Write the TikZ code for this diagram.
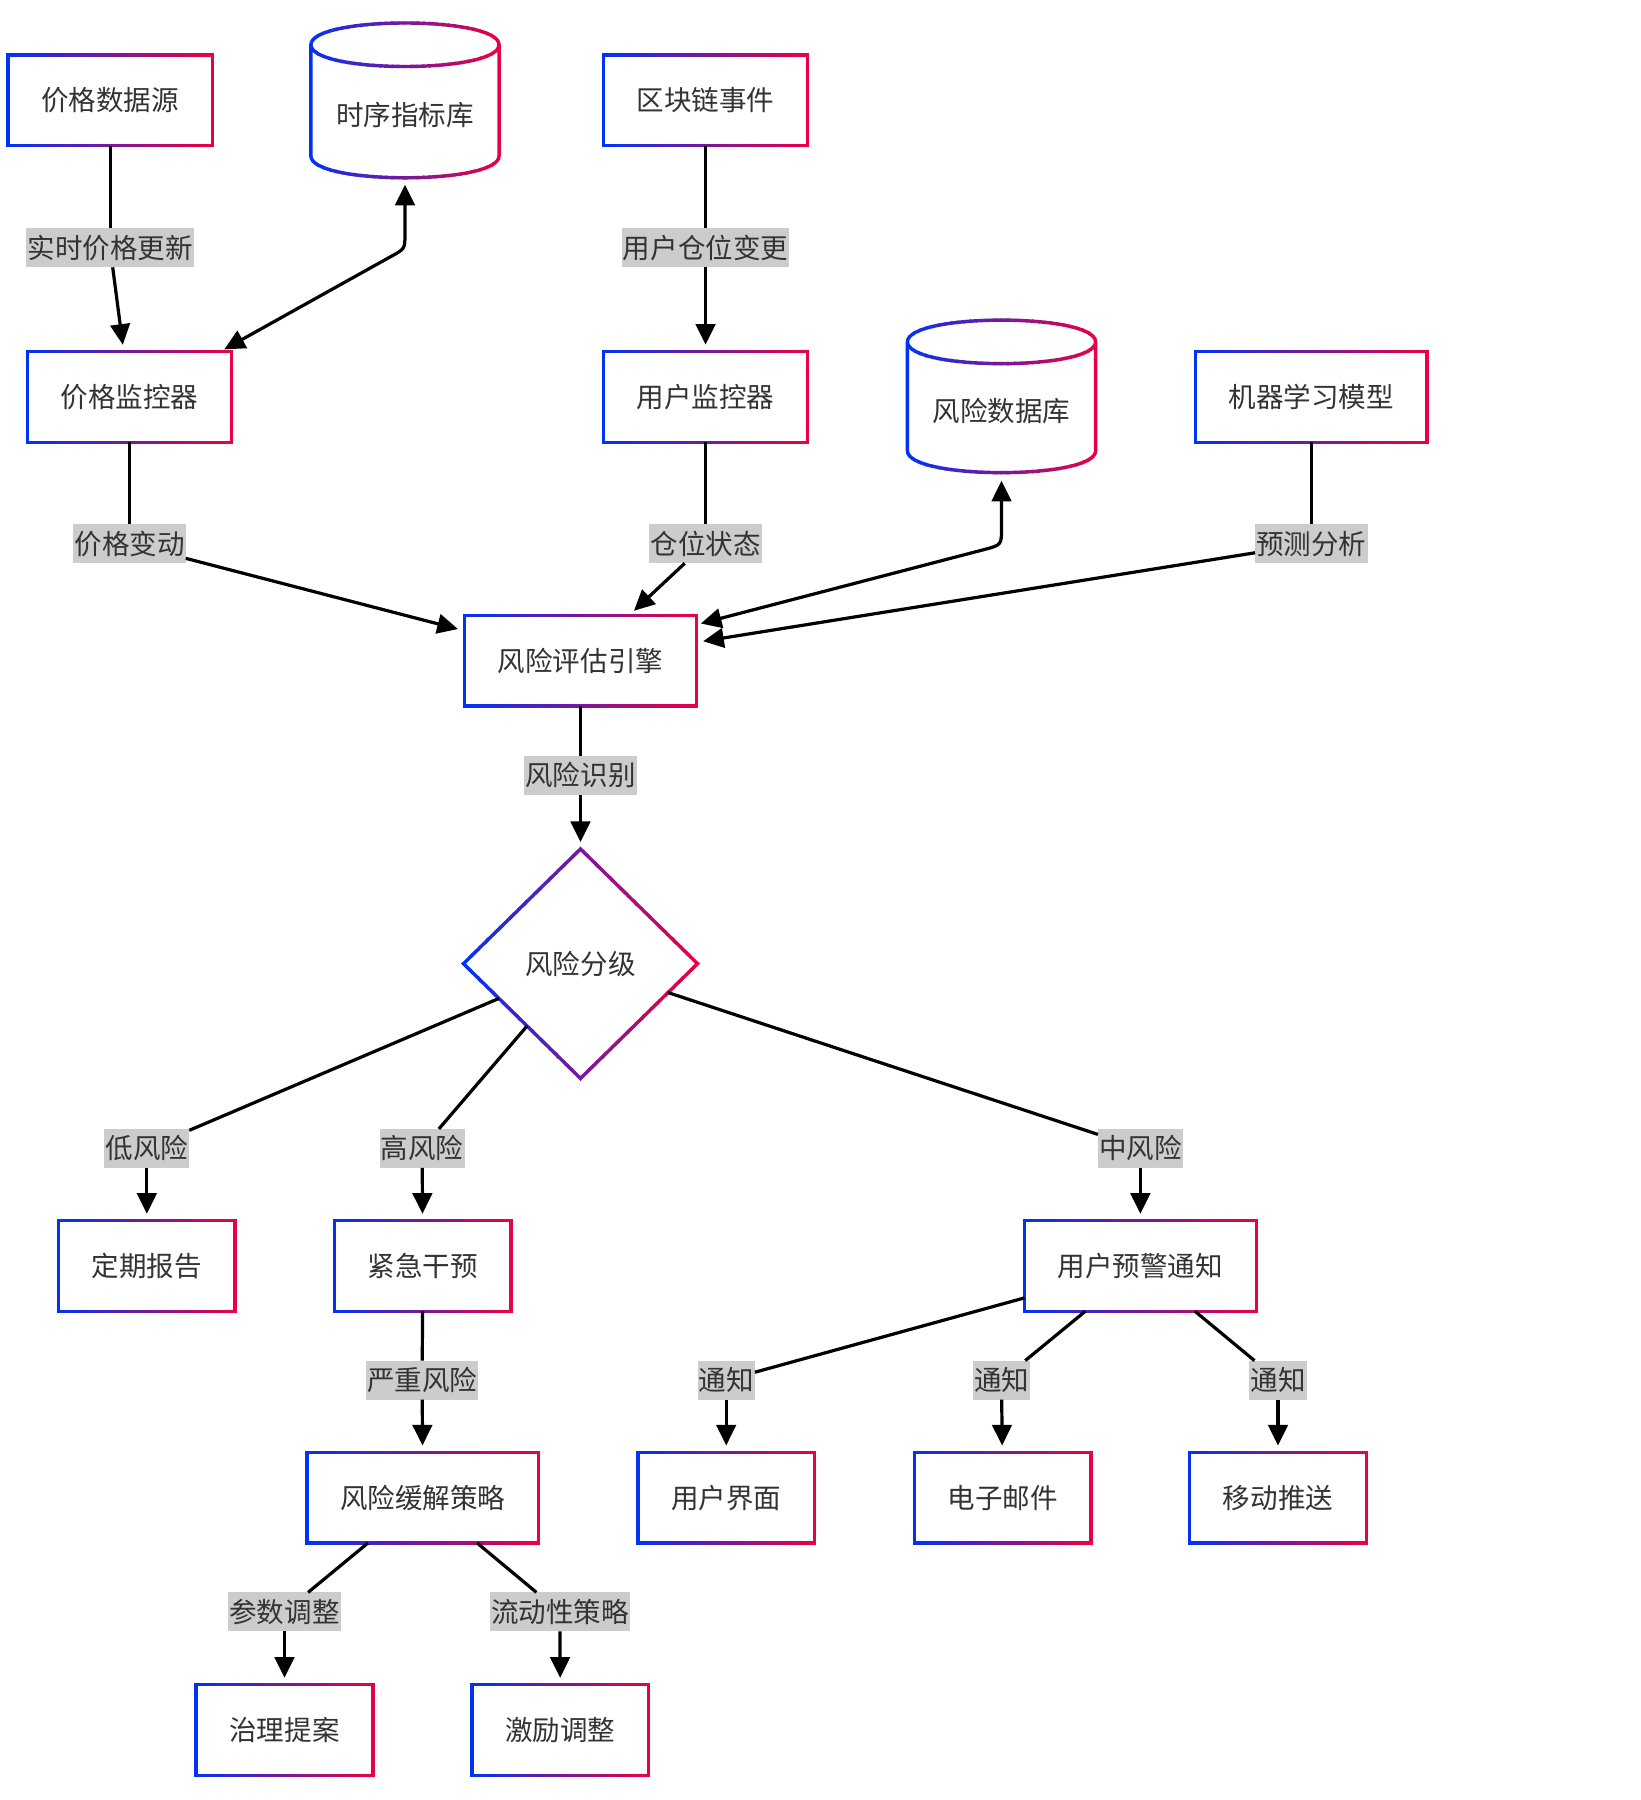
\documentclass[tikz,border=0pt]{standalone}
\usepackage{fontspec}
\setmainfont{Noto Sans CJK SC}
\usetikzlibrary{arrows.meta,shapes.geometric,calc}
\definecolor{gBlue}{RGB}{0,51,245}
\definecolor{gRed}{RGB}{235,0,68}
\definecolor{lblbg}{RGB}{204,204,204}
\definecolor{txt}{RGB}{51,51,51}
\tikzset{
  gline/.style={line width=1.5pt, line join=miter},
  cylline/.style={line join=round, line cap=round},
  box/.style={rectangle, fill=white, inner xsep=14.5pt, inner ysep=0pt, minimum height=39.5pt, outer sep=0pt,
    font=\fontsize{12pt}{14pt}\selectfont, text=txt, text height=9.5pt, text depth=0.5pt},
  dbnode/.style={rectangle, inner sep=0pt, minimum width=82pt, minimum height=55pt, outer sep=0pt,
    font=\fontsize{12pt}{14pt}\selectfont, text=txt, text height=9.5pt, text depth=0.5pt},
  decide/.style={diamond, fill=white, inner sep=0pt, minimum width=102pt, minimum height=100pt, outer sep=0pt,
    font=\fontsize{12pt}{14pt}\selectfont, text=txt, text height=9.5pt, text depth=0.5pt},
  lbl/.style={rectangle, fill=lblbg, inner xsep=0.5pt, inner ysep=0pt, minimum height=17pt, outer sep=0pt,
    font=\fontsize{12pt}{14pt}\selectfont, text=txt, text height=9.5pt, text depth=0.5pt},
  ln/.style={line width=1.4pt},
  arr/.style={line width=1.4pt, -{Triangle[length=9pt,width=8.5pt]}, shorten >=3pt},
  biarr/.style={line width=1.4pt, {Triangle[length=9pt,width=8.5pt]}-{Triangle[length=9pt,width=8.5pt]}, shorten >=3pt, shorten <=2pt},
}
% gradient stroke: #1 = extra style, #2,#3 = left/right canvas x (pt numbers), #4 = path
\newcommand\gstroke[4]{%
  \foreach \k in {0,...,29}{%
    \pgfmathsetmacro\xa{#2+(#3-#2)*\k/30-0.3}%
    \pgfmathsetmacro\xb{#2+(#3-#2)*(\k+1)/30+0.3}%
    \ifnum\k=0 \def\xa{-1000}\fi
    \ifnum\k=29 \def\xb{2000}\fi
    \pgfmathsetmacro\pc{100*(\k+0.5)/30}%
    \begin{scope}
      \clip (\xa pt,-1000pt) rectangle (\xb pt,1000pt);
      \draw[gline, #1, draw=gRed!\pc!gBlue] #4;
    \end{scope}}}
\newcommand\grect[1]{%
  \pgfpointanchor{#1}{west}\pgfgetlastxy{\gxl}{\gyy}%
  \pgfpointanchor{#1}{east}\pgfgetlastxy{\gxr}{\gyy}%
  \pgfmathsetmacro\gl{\gxl}\pgfmathsetmacro\gr{\gxr}%
  \gstroke{}{\gl}{\gr}{(#1.north west) rectangle (#1.south east)}}
\newcommand\gdiam[1]{%
  \pgfpointanchor{#1}{west}\pgfgetlastxy{\gxl}{\gyy}%
  \pgfpointanchor{#1}{east}\pgfgetlastxy{\gxr}{\gyy}%
  \pgfmathsetmacro\gl{\gxl}\pgfmathsetmacro\gr{\gxr}%
  \gstroke{}{\gl}{\gr}{(#1.north) -- (#1.east) -- (#1.south) -- (#1.west) -- cycle}}
% cylinder: #1 = cx, #2 = top ellipse centre y, #3 = bottom ellipse centre y (picture units)
\newcommand\gcyl[3]{%
  \fill[white] ({#1-82},#2) .. controls ({#1-82},{#2-25.3}) and ({#1+82},{#2-25.3}) .. ({#1+82},#2)
     -- ({#1+82},#3) .. controls ({#1+82},{#3+25.3}) and ({#1-82},{#3+25.3}) .. ({#1-82},#3) -- cycle;
  \pgfmathsetmacro\gl{(#1-82)*0.5}\pgfmathsetmacro\gr{(#1+82)*0.5}%
  \gstroke{cylline}{\gl}{\gr}{({#1-82},#2) .. controls ({#1-82},{#2-25.3}) and ({#1+82},{#2-25.3}) .. ({#1+82},#2)
     .. controls ({#1+82},{#2+25.3}) and ({#1-82},{#2+25.3}) .. ({#1-82},#2) -- cycle
     ({#1-82},#2) -- ({#1-82},#3)
     .. controls ({#1-82},{#3+25.3}) and ({#1+82},{#3+25.3}) .. ({#1+82},#3) -- ({#1+82},#2)}}
\begin{document}
\begin{tikzpicture}[x=0.5pt,y=-0.5pt]
\useasboundingbox[fill=white] (0,0) rectangle (1430,1569);
% cylinders
\gcyl{353}{39}{136}
\gcyl{873}{298}{393}
% nodes
\node[box] (src) at (96,87.5) {价格数据源};
\node[dbnode] (tsdb) at (353,100) {时序指标库};
\node[box] (chain) at (615,87.5) {区块链事件};
\node[box] (pmon) at (113,346) {价格监控器};
\node[box] (umon) at (615,346) {用户监控器};
\node[dbnode] (rdb) at (873,358) {风险数据库};
\node[box] (ml) at (1143,346) {机器学习模型};
\node[box] (engine) at (506,576) {风险评估引擎};
\node[decide] (grade) at (506,840) {风险分级};
\node[box] (report) at (128,1103.5) {定期报告};
\node[box] (urgent) at (368.5,1103.5) {紧急干预};
\node[box] (warn) at (994,1103.5) {用户预警通知};
\node[box] (mitig) at (368.5,1305.5) {风险缓解策略};
\node[box] (ui) at (633,1305.5) {用户界面};
\node[box] (email) at (874,1305.5) {电子邮件};
\node[box] (push) at (1114,1305.5) {移动推送};
\node[box] (gov) at (248,1508) {治理提案};
\node[box] (incent) at (488.5,1508) {激励调整};
% gradient borders
\grect{src}\grect{chain}\grect{pmon}\grect{umon}\grect{ml}\grect{engine}
\gdiam{grade}
\grect{report}\grect{urgent}\grect{warn}\grect{mitig}\grect{ui}\grect{email}\grect{push}\grect{gov}\grect{incent}
% labels
\node[lbl] (lA) at (96,216) {实时价格更新};
\node[lbl] (lC) at (615,216) {用户仓位变更};
\node[lbl] (lD) at (113,474) {价格变动};
\node[lbl] (lE) at (615,474) {仓位状态};
\node[lbl] (lG) at (1143,474) {预测分析};
\node[lbl] (lH) at (506,676) {风险识别};
\node[lbl] (lI) at (128,1001) {低风险};
\node[lbl] (lJ) at (368,1001) {高风险};
\node[lbl] (lK) at (994,1001) {中风险};
\node[lbl] (lL) at (368,1203) {严重风险};
\node[lbl] (lM) at (633,1203) {通知};
\node[lbl] (lN) at (873,1203) {通知};
\node[lbl] (lO) at (1114,1203) {通知};
\node[lbl] (lP) at (248,1405) {参数调整};
\node[lbl] (lQ) at (488,1405) {流动性策略};
% edges
\draw[ln] (src) -- (lA); \draw[arr] (lA) -- (pmon);
\draw[biarr] ($(pmon.north east)+(-10,0)$) -- (340,224) .. controls (353,217) .. (353,204) -- (tsdb.south);
\draw[ln] (chain) -- (lC); \draw[arr] (lC) -- (umon);
\draw[ln] (pmon) -- (lD); \draw[arr] (lD) -- (engine);
\draw[ln] (umon) -- (lE); \draw[arr] (lE) -- (engine);
\draw[biarr] ($(engine.north east)+(0,8)$) -- (858,479) .. controls (873,475) .. (873,460) -- (rdb.south);
\draw[ln] (ml) -- (lG); \draw[arr] (lG) -- (engine);
\draw[ln] (engine) -- (lH); \draw[arr] (lH) -- (grade);
\draw[ln] (grade) -- (lI); \draw[arr] (lI) -- (report);
\draw[ln] (grade) -- (lJ); \draw[arr] (lJ) -- (urgent);
\draw[ln] (grade) -- (lK); \draw[arr] (lK) -- (warn);
\draw[ln] (urgent) -- (lL); \draw[arr] (lL) -- (mitig);
\draw[ln] (warn) -- (lM); \draw[arr] (lM) -- (ui);
\draw[ln] (warn) -- (lN); \draw[arr] (lN) -- (email);
\draw[ln] (warn) -- (lO); \draw[arr] (lO) -- (push);
\draw[ln] (mitig) -- (lP); \draw[arr] (lP) -- (gov);
\draw[ln] (mitig) -- (lQ); \draw[arr] (lQ) -- (incent);
\end{tikzpicture}
\end{document}
